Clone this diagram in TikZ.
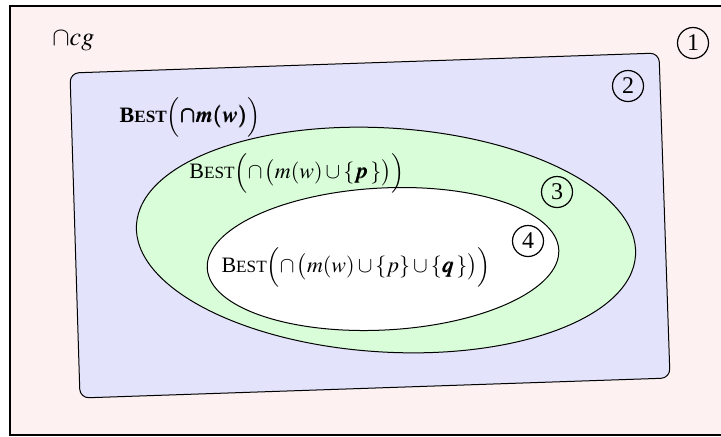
\documentclass[tikz,border=0pt]{standalone}
\usepackage{mathptmx}
\usepackage{bm}
\usepackage[no-math]{fontspec}
\setmainfont{Liberation Serif}
\usetikzlibrary{positioning}
\definecolor{FramePink}{HTML}{FDF1F1}
\definecolor{BoxBlue}{HTML}{E3E3FB}
\definecolor{RingGreen}{HTML}{D8FDD8}
\newcommand{\bestop}{B{\fontsize{8.6}{10}\selectfont EST}}
\tikzset{
    % Region styles
    frame/.style={
        draw=black,
        fill=FramePink,
        line width=1.3pt
    },
    bluebox/.style={
        draw=black,
        fill=BoxBlue,
        line width=0.5pt,
        rounded corners=4.5pt
    },
    greenring/.style={
        draw=black,
        fill=RingGreen,
        line width=0.5pt
    },
    whitering/.style={
        draw=black,
        fill=white,
        line width=0.5pt
    },
    % Label styles
    setlabel/.style={
        font=\fontsize{11}{13}\selectfont,
        inner sep=0pt
    },
    regionnum/.style={
        circle,
        draw=black,
        line width=0.6pt,
        minimum size=15.5pt,
        inner sep=0pt,
        font=\fontsize{12}{14}\selectfont
    }
}

\begin{document}
\begin{tikzpicture}[x=0.5pt, y=-0.5pt]
    \useasboundingbox (0,0) rectangle (721,436);
    \draw[frame] (10,6) rectangle (740,435);

    \coordinate (b1) at (70,73);
    \coordinate (b2) at (659,53);
    \coordinate (b3) at (670,378);
    \coordinate (b4) at (80,398);
    \draw[bluebox] (b1) -- (b2) -- (b3) -- (b4) -- cycle;

    \draw[greenring, rotate around={-3.5:(386,240)}] (386,240) ellipse [x radius=250, y radius=112];
    \draw[whitering, rotate around={3:(383,259)}] (383,259) ellipse [x radius=176, y radius=71];

    \node[setlabel, font=\fontsize{13}{15}\selectfont, anchor=west] (cg) at (52,41) {$\cap cg$};
    \node[setlabel] (best2) at (190,117) {\textbf{\bestop}$\Bigl(\bm{\cap m(w)}\Bigr)$};
    \node[setlabel] (best3) at (297,173) {\bestop$\Bigl(\cap\,\bigl(m(w)\cup\{\bm{p}\,\}\bigr)\Bigr)$};
    \node[setlabel] (best4) at (356,267) {\bestop$\Bigl(\cap\,\bigl(m(w)\cup\{p\}\cup\{\bm{q}\,\}\bigr)\Bigr)$};

    \node[regionnum] (n1) at (693,43) {1};
    \node[regionnum] (n2) at (628,86) {2};
    \node[regionnum] (n3) at (557,192) {3};
    \node[regionnum] (n4) at (528,241) {4};
\end{tikzpicture}
\end{document}
